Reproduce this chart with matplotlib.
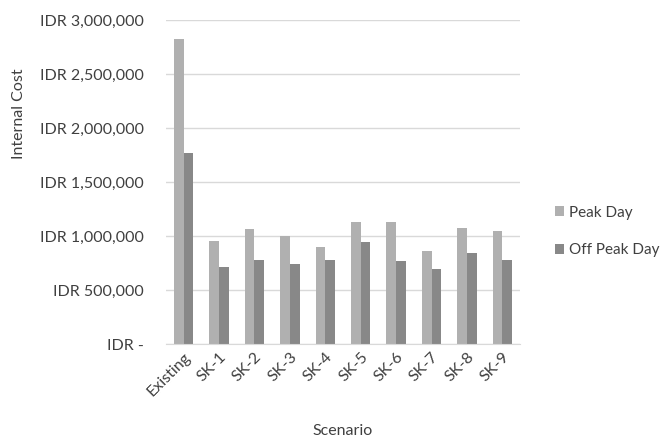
import numpy as np
import matplotlib.pyplot as plt
from matplotlib.ticker import FuncFormatter

plt.rcParams['font.family'] = ['Lato', 'DejaVu Sans']

scenarios = ["Existing", "SK-1", "SK-2", "SK-3", "SK-4", "SK-5", "SK-6", "SK-7", "SK-8", "SK-9"]
peak_day = [2825000, 956000, 1064000, 1002000, 897000, 1131000, 1131000, 866000, 1076000, 1048000]
off_peak_day = [1772000, 715000, 783000, 746000, 783000, 943000, 768000, 700000, 842000, 777000]
series_names = ["Peak Day", "Off Peak Day"]

txt_color = "#404040"
grid_color = "#d9d9d9"
fsize = 11.5


def idr_fmt(v, pos):
    if v == 0:
        return "IDR -"
    return "IDR {:,.0f}".format(v)


fig = plt.figure(figsize=(6.66, 4.38), dpi=100)
ax = fig.add_axes([0.2492, 0.2140, 0.5316, 0.7403])

x = np.arange(len(scenarios))
w = 0.275
ax.bar(x - w / 2, peak_day, w, color="#b0b0b0", label=series_names[0], zorder=3)
ax.bar(x + w / 2, off_peak_day, w, color="#888888", label=series_names[1], zorder=3)

ax.set_xlim(-0.5, len(scenarios) - 0.5)
ax.set_ylim(0, 3000000)
ax.set_yticks(np.arange(0, 3000001, 500000))
ax.yaxis.set_major_formatter(FuncFormatter(idr_fmt))
ax.grid(axis="y", color=grid_color, linewidth=1, zorder=0)

for s in ["top", "right", "left"]:
    ax.spines[s].set_visible(False)
ax.spines["bottom"].set_color(grid_color)
ax.spines["bottom"].set_zorder(4)

ax.tick_params(axis="both", length=0, labelsize=fsize, colors=txt_color)
ax.tick_params(axis="y", pad=16)
ax.tick_params(axis="x", pad=4)
ax.set_xticks(x)
ax.set_xticklabels(scenarios, rotation=45, ha="right", rotation_mode="anchor")

# axis titles placed in figure pixels
fig.text(343 / 666, 1 - 431 / 438, "Scenario", fontsize=fsize, color=txt_color,
         ha="center", va="center")
fig.text(19 / 666, 1 - 114 / 438, "Internal Cost", fontsize=fsize, color=txt_color,
         ha="center", va="center", rotation=90)

fig.legend(loc="center left", bbox_to_anchor=(0.824, 0.4715), borderaxespad=0,
           frameon=False, fontsize=11, handlelength=0.6, handleheight=0.6,
           handletextpad=0.3, labelspacing=1.55, labelcolor=txt_color)

plt.savefig("out.png", dpi=100)
